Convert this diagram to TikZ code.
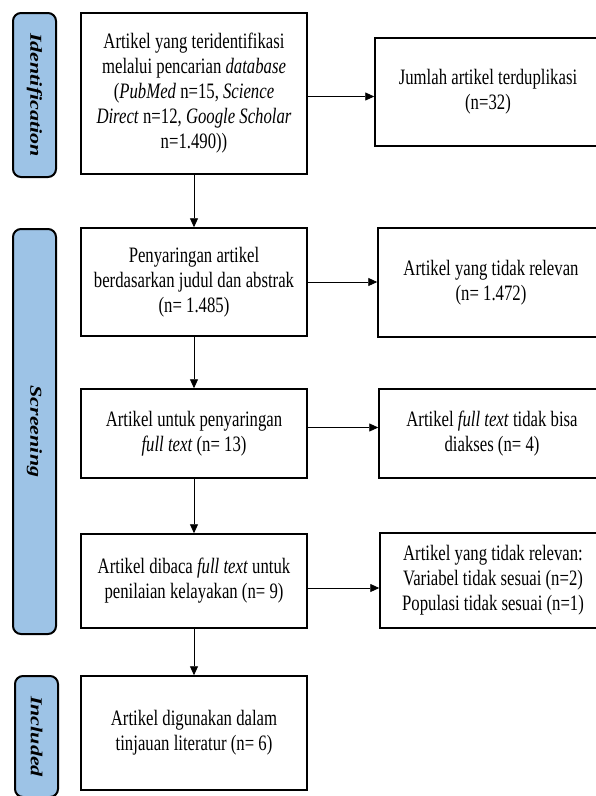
\documentclass[tikz,border=0pt]{standalone}
\usepackage{fontspec}
\usepackage{graphicx}
\setmainfont[FakeStretch=0.76]{Liberation Serif}
\newfontfamily\stagefont{Liberation Serif}
\usetikzlibrary{arrows.meta}
\definecolor{stageblue}{HTML}{9DC3E6}

\begin{document}
\begin{tikzpicture}[x=1pt,y=-1pt]
	\tikzstyle{box}=[rectangle,draw=black,line width=1.5pt,minimum width=226pt,align=center,inner sep=2pt,font=\fontsize{22}{25}\selectfont]
	\tikzstyle{stage}=[rectangle,rounded corners=8pt,draw=black,line width=2pt,fill=stageblue,minimum height=43pt,inner sep=0pt,rotate=-90,font=\stagefont\bfseries\itshape\fontsize{22}{25}\selectfont]
	\tikzstyle{arrow}=[line width=0.9pt,-{Triangle[length=9pt,width=8pt]}]
	\clip (0,0) rectangle (596,796);
	\node[stage,minimum width=164pt] (10) at (34.5,95) {\scalebox{1}[0.76]{Identification}};
	\node[stage,minimum width=405pt] (11) at (34.5,431.5) {\scalebox{1}[0.76]{Screening}};
	\node[stage,minimum width=121pt] (12) at (36.5,736.5) {\scalebox{1}[0.76]{Included}};
	\node[box,minimum height=161pt] (1) at (194,93.5) {Artikel yang teridentifikasi\\melalui pencarian \textit{database}\\(\textit{PubMed} n=15, \textit{Science}\\\textit{Direct} n=12, \textit{Google Scholar}\\n=1.490))};
	\node[box,minimum height=108pt] (2) at (194,282) {Penyaringan artikel\\berdasarkan judul dan abstrak\\(n= 1.485)};
	\node[box,minimum height=89pt] (3) at (194,433.5) {Artikel untuk penyaringan\\\textit{full text} (n= 13)};
	\node[box,minimum height=94pt] (4) at (194,581) {Artikel dibaca \textit{full text} untuk\\penilaian kelayakan (n= 9)};
	\node[box,minimum height=114pt] (5) at (194,733) {Artikel digunakan dalam\\tinjauan literatur (n= 6)};
	\node[box,minimum height=108pt] (6) at (488,92) {Jumlah artikel terduplikasi\\(n=32)};
	\node[box,minimum height=109pt] (7) at (491,282.5) {Artikel yang tidak relevan\\(n= 1.472)};
	\node[box,minimum height=89pt] (8) at (492,433.5) {Artikel \textit{full text} tidak bisa\\diakses (n= 4)};
	\node[box,minimum height=95pt] (9) at (493,580.5) {Artikel yang tidak relevan:\\Variabel tidak sesuai (n=2)\\Populasi tidak sesuai (n=1)};
	\draw[arrow] (1) -- (2);
	\draw[arrow] (2) -- (3);
	\draw[arrow] (3) -- (4);
	\draw[arrow] (4) -- (5);
	\draw[arrow] ([yshift=-3pt]1.east) -- ([yshift=-3pt]1.east -| 6.west);
	\draw[arrow] (2.east) -- (2.east -| 7.west);
	\draw[arrow] ([yshift=6pt]3.east) -- ([yshift=6pt]3.east -| 8.west);
	\draw[arrow] ([yshift=-7pt]4.east) -- ([yshift=-7pt]4.east -| 9.west);
\end{tikzpicture}
\end{document}
